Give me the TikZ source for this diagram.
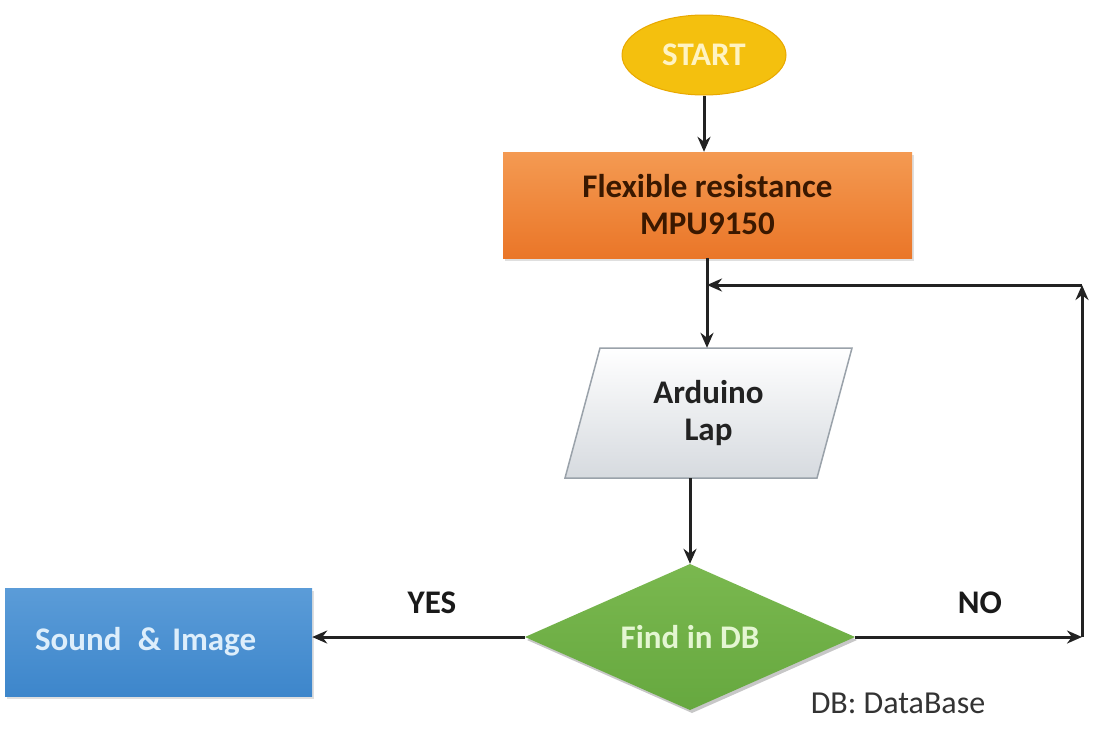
\documentclass[tikz,border=0pt]{standalone}
\usepackage{fontspec}
\setmainfont{Carlito}
\usetikzlibrary{shapes.geometric,arrows.meta,shadows}
\definecolor{lineC}{HTML}{222222}
\definecolor{yelF}{HTML}{F4C00E}
\definecolor{yelD}{HTML}{E9A800}
\definecolor{yelT}{HTML}{FFF3C2}
\definecolor{orT}{HTML}{F49A52}
\definecolor{orB}{HTML}{EA7628}
\definecolor{orTxt}{HTML}{3A1800}
\definecolor{grT}{HTML}{FFFFFF}
\definecolor{grB}{HTML}{D6DADF}
\definecolor{grD}{HTML}{9AA2AA}
\definecolor{gnT}{HTML}{7AB84F}
\definecolor{gnB}{HTML}{66A83F}
\definecolor{gnTxt}{HTML}{E4F6D2}
\definecolor{blT}{HTML}{5B9CD8}
\definecolor{blB}{HTML}{3D86CB}
\definecolor{blTxt}{HTML}{DDEEFB}
\definecolor{lblC}{HTML}{1A1A1A}
\definecolor{noteC}{HTML}{333333}
\tikzset{
  txt/.style={font=\fontsize{33}{37}\selectfont\bfseries},
  shd/.style={drop shadow={opacity=0.25,shadow xshift=2pt,shadow yshift=-3pt}},
  startnode/.style={ellipse,txt,draw=yelD,line width=1pt,fill=yelF,text=yelT,
    minimum width=164pt,minimum height=80pt,inner sep=0pt},
  procbox/.style={rectangle,txt,top color=orT,bottom color=orB,draw=none,text=orTxt,
    minimum width=409pt,minimum height=106pt,align=center,shd},
  iobox/.style={rectangle,txt,draw=none,minimum width=252pt,minimum height=130pt,inner sep=0pt,align=center,text=lineC},
  decide/.style={rectangle,txt,draw=none,text=gnTxt,
    minimum width=330pt,minimum height=146pt,inner sep=0pt},
  outbox/.style={rectangle,txt,top color=blT,bottom color=blB,draw=none,text=blTxt,
    text width=247pt,align=left,inner xsep=30pt,minimum height=108pt,shd},
  lbl/.style={txt,text=lblC},
  note/.style={font=\fontsize{32}{37}\selectfont,text=noteC},
  arr/.style={draw=lineC,line width=3pt,-{Stealth[length=15pt,width=13pt]}}
}
\begin{document}
\begin{tikzpicture}[x=1pt,y=-1pt]
\useasboundingbox (0,0) rectangle (1094,729);
\fill[white] (0,0) rectangle (1094,729);

\node[startnode] (start) at (704,55) {START};
\node[procbox] (flex) at (707.5,205) {Flexible resistance\\MPU9150};

% parallelogram (Arduino Lap)
\shade[top color=grT,bottom color=grB,draw=grD,line width=1.5pt]
  (600,348) -- (852,348) -- (817,478) -- (565,478) -- cycle;
\node[iobox] (ard) at (708.5,413) {Arduino\\Lap};

% decision diamond
\fill[black,opacity=0.22] (527,640) -- (692,567) -- (857,640) -- (692,713) -- cycle;
\shade[top color=gnT,bottom color=gnB]
  (525,637) -- (690,564) -- (855,637) -- (690,710) -- cycle;
\node[decide] (dia) at (690,637) {Find in DB};

\node[outbox] (snd) at (158.5,642) {Sound \,\& Image};

\coordinate (fbA) at (1082,637);
\coordinate (fbB) at (1082,285);
\coordinate (merge) at (707,285);

\draw[arr] (start.south) -- (start.south |- flex.north);
\draw[arr] (flex.south -| merge) -- (ard.north -| merge);
\draw[arr] (ard.south -| dia.north) -- (dia.north);
\draw[arr] (dia.west) -- (snd.east |- dia.west);
\draw[arr] (dia.east) -- (fbA);
\draw[arr] (fbA) -- (fbB);
\draw[arr] (fbB) -- (merge);

\node[lbl] (yes) at (432,603) {YES};
\node[lbl] (no) at (980,603) {NO};
\node[note] (dbn) at (898,703) {DB: DataBase};
\end{tikzpicture}
\end{document}
